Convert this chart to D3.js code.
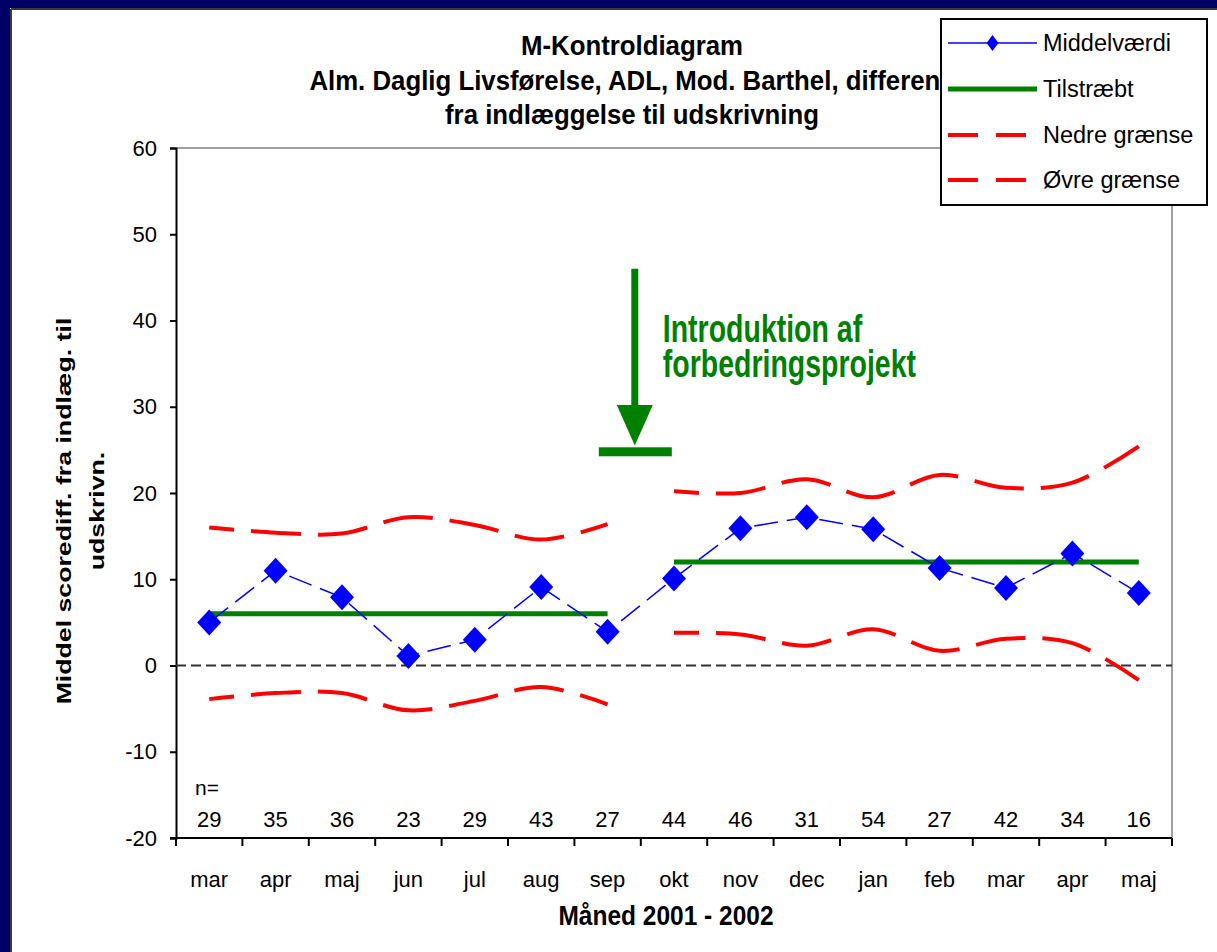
<!DOCTYPE html>
<html>
<head>
<meta charset="utf-8">
<script src="https://cdn.jsdelivr.net/npm/d3@7"></script>
<style>
  html, body { margin: 0; padding: 0; background: #ffffff; }
  svg { display: block; }
  text { font-family: "Liberation Sans", Arial, sans-serif; }
</style>
</head>
<body>
<svg id="chart" width="1217" height="952"></svg>
<script>
// ---------------- data ----------------
const months = ["mar","apr","maj","jun","jul","aug","sep","okt","nov","dec","jan","feb","mar","apr","maj"];
const nValues = [29,35,36,23,29,43,27,44,46,31,54,27,42,34,16];
const means   = [5.0,11.0,7.9,1.1,3.0,9.1,3.9,10.1,15.9,17.2,15.8,11.3,9.0,13.0,8.4];
const phase   = [1,1,1,1,1,1,1,2,2,2,2,2,2,2,2];
const target  = [6,6,6,6,6,6,6,12,12,12,12,12,12,12,12];
const upper   = [16.0,15.4,15.3,17.2,16.3,14.6,16.4,20.2,20.0,21.6,19.5,22.1,20.6,21.2,25.4];
const lower   = [-3.9,-3.2,-3.2,-5.2,-4.1,-2.5,-4.5,3.8,3.6,2.3,4.2,1.7,3.1,2.6,-1.7];
const yTicks  = [-20,-10,0,10,20,30,40,50,60];
const titleLines = ["M-Kontroldiagram",
  "Alm. Daglig Livsførelse, ADL, Mod. Barthel, differens",
  "fra indlæggelse til udskrivning"];
const yTitleLines = ["Middel scorediff. fra indlæg. til", "udskrivn."];
const xTitle = "Måned 2001 - 2002";
const annotationLines = ["Introduktion af", "forbedringsprojekt"];
const legendLabels = ["Middelværdi", "Tilstræbt", "Nedre grænse", "Øvre grænse"];

// ---------------- layout ----------------
const W = 1217, H = 952;
const plot = {left: 176, right: 1172, top: 148, bottom: 838};
const svg = d3.select("#chart");
const FONT = '"Liberation Sans", Arial, sans-serif';

// background frame
svg.append("rect").attr("x",0).attr("y",0).attr("width",W).attr("height",H).attr("fill","#ffffff");
svg.append("rect").attr("x",0).attr("y",0).attr("width",W).attr("height",8).attr("fill","#000066");
svg.append("rect").attr("x",0).attr("y",0).attr("width",10).attr("height",H).attr("fill","#000066");
svg.append("line").attr("x1",11).attr("x2",W).attr("y1",9).attr("y2",9).attr("stroke","#3a3a3a").attr("stroke-width",2);
svg.append("line").attr("x1",11).attr("x2",11).attr("y1",9).attr("y2",H).attr("stroke","#3a3a3a").attr("stroke-width",2);

const x = d3.scaleBand().domain(d3.range(months.length)).range([plot.left, plot.right]).paddingInner(0).paddingOuter(0);
const y = d3.scaleLinear().domain([-20, 60]).range([plot.bottom, plot.top]);
const cx = i => x(i) + x.bandwidth() / 2;

function txt(g, s, px, py, opts) {
  const o = Object.assign({size: 22, weight: "normal", anchor: "middle", sy: 1, sx: 1, rot: 0, fill: "#000"}, opts || {});
  return g.append("text")
    .attr("transform", `translate(${px},${py}) rotate(${o.rot}) scale(${o.sx},${o.sy})`)
    .attr("font-family", FONT)
    .attr("font-size", o.size)
    .attr("font-weight", o.weight)
    .attr("text-anchor", o.anchor)
    .attr("fill", o.fill)
    .text(s);
}

// title
const titleBase = [55, 90, 124];
titleLines.forEach((t, i) => txt(svg, t, 632, titleBase[i], {size: 25.8, weight: "bold", sy: 1.07}));

// plot area border (grey top/right)
svg.append("path")
  .attr("d", `M${plot.left},${plot.top}H${plot.right}V${plot.bottom}`)
  .attr("fill","none").attr("stroke","#808080").attr("stroke-width",1.5);

// y axis
const yAxis = d3.axisLeft(y).tickValues(yTicks).tickSize(6).tickPadding(13).tickFormat(d => String(d));
const gy = svg.append("g").attr("transform", `translate(${plot.left},0)`).call(yAxis);
gy.select(".domain").attr("stroke","#000").attr("stroke-width",2);
gy.selectAll(".tick line").attr("stroke","#000").attr("stroke-width",2);
gy.selectAll(".tick text").attr("font-family", FONT).attr("font-size", 22).attr("fill","#000");

// x axis: line + ticks at band boundaries + labels at centres
const gx = svg.append("g").attr("transform", `translate(0,${plot.bottom})`);
gx.append("line").attr("x1", plot.left - 6).attr("x2", plot.right).attr("y1",0).attr("y2",0)
  .attr("stroke","#000").attr("stroke-width",2);
const bounds = d3.range(months.length).map(i => x(i)).concat([x.range()[1]]);
gx.selectAll("line.tk").data(bounds).enter().append("line").attr("class","tk")
  .attr("x1", d => d).attr("x2", d => d).attr("y1", 0).attr("y2", 8)
  .attr("stroke","#000").attr("stroke-width",2);
const xAxis = d3.axisBottom(x).tickSize(0).tickPadding(0).tickFormat(i => months[i]);
const gxl = svg.append("g").attr("transform", `translate(0,${plot.bottom})`).call(xAxis);
gxl.select(".domain").remove();
gxl.selectAll(".tick text").attr("font-family", FONT).attr("font-size", 22).attr("fill","#000")
  .attr("dy", null).attr("y", 49);

// n labels
txt(svg, "n=", 195, 795, {size: 21, anchor: "start"});
nValues.forEach((n, i) => txt(svg, String(n), cx(i), 827, {size: 22}));

// axis titles
txt(svg, yTitleLines[0], 71, 511, {size: 21, weight: "bold", rot: -90, sx: 1.27});
txt(svg, yTitleLines[1], 104, 511, {size: 21, weight: "bold", rot: -90, sx: 1.27});
txt(svg, xTitle, 666, 925, {size: 24.5, weight: "bold", sy: 1.12});

// zero reference line
svg.append("line").attr("x1", plot.left).attr("x2", plot.right).attr("y1", y(0)).attr("y2", y(0))
  .attr("stroke","#333").attr("stroke-width",2).attr("stroke-dasharray","10,5");

// series by phase
const phases = Array.from(new Set(phase));
const smooth = d3.line().x(d => cx(d.i)).y(d => y(d.v)).curve(d3.curveCatmullRom.alpha(0.5));
const straight = d3.line().x(d => cx(d.i)).y(d => y(d.v));

phases.forEach(p => {
  const idx = d3.range(months.length).filter(i => phase[i] === p);
  // limits
  [upper, lower].forEach(arr => {
    svg.append("path")
      .attr("d", smooth(idx.map(i => ({i, v: arr[i]}))))
      .attr("fill","none").attr("stroke","#ff0000").attr("stroke-width",4)
      .attr("stroke-dasharray","50,17").attr("stroke-dashoffset",25);
  });
  // target
  svg.append("path")
    .attr("d", straight(idx.map(i => ({i, v: target[i]}))))
    .attr("fill","none").attr("stroke","#008000").attr("stroke-width",5);
});

// mean line
svg.append("path")
  .attr("d", straight(means.map((v, i) => ({i, v}))))
  .attr("fill","none").attr("stroke","#0000ff").attr("stroke-width",1.5)
  .attr("stroke-dasharray","24,9");

const diamond = (hw, hh) => `M0,${-hh}L${hw},0L0,${hh}L${-hw},0Z`;
svg.selectAll("path.pt").data(means).enter().append("path").attr("class","pt")
  .attr("d", diamond(12, 13))
  .attr("transform", (d, i) => `translate(${cx(i)},${y(d)})`)
  .attr("fill","#0000ff");

// annotation (intervention marker)
const ax = x(7) - 6;
const green = "#008000";
svg.append("rect").attr("x", ax - 3.5).attr("y", y(46)).attr("width", 7).attr("height", y(29.6) - y(46)).attr("fill", green);
svg.append("path").attr("d", `M${ax-18},${y(30.2)}L${ax+18},${y(30.2)}L${ax},${y(25.5)}Z`).attr("fill", green);
svg.append("rect").attr("x", ax - 36).attr("y", y(25.3)).attr("width", 73).attr("height", 9).attr("fill", green);
txt(svg, annotationLines[0], ax + 28, 342, {size: 28.5, weight: "bold", anchor: "start", sy: 1.33, fill: green});
txt(svg, annotationLines[1], ax + 28, 377, {size: 28.5, weight: "bold", anchor: "start", sy: 1.33, fill: green});

// legend
const lg = svg.append("g");
lg.append("rect").attr("x", 941).attr("y", 19).attr("width", 266).attr("height", 186)
  .attr("fill","#fff").attr("stroke","#000").attr("stroke-width",2);
const rowY = [43, 89, 135, 180];
const sx0 = 948, sx1 = 1037;
// Middelværdi
lg.append("line").attr("x1", sx0).attr("x2", sx1).attr("y1", rowY[0]).attr("y2", rowY[0]).attr("stroke","#0000ff").attr("stroke-width",1.6);
lg.append("path").attr("d", diamond(6, 8)).attr("transform", `translate(${(sx0+sx1)/2},${rowY[0]})`).attr("fill","#0000ff");
// Tilstræbt
lg.append("line").attr("x1", sx0).attr("x2", sx1).attr("y1", rowY[1]).attr("y2", rowY[1]).attr("stroke", green).attr("stroke-width",5);
// limits
[2, 3].forEach(k => {
  lg.append("line").attr("x1", sx0).attr("x2", 1028).attr("y1", rowY[k]).attr("y2", rowY[k])
    .attr("stroke","#ff0000").attr("stroke-width",4).attr("stroke-dasharray","30,18");
});
legendLabels.forEach((t, k) => txt(lg, t, 1043, rowY[k] + 8, {size: 23.5, anchor: "start"}));
</script>
</body>
</html>
